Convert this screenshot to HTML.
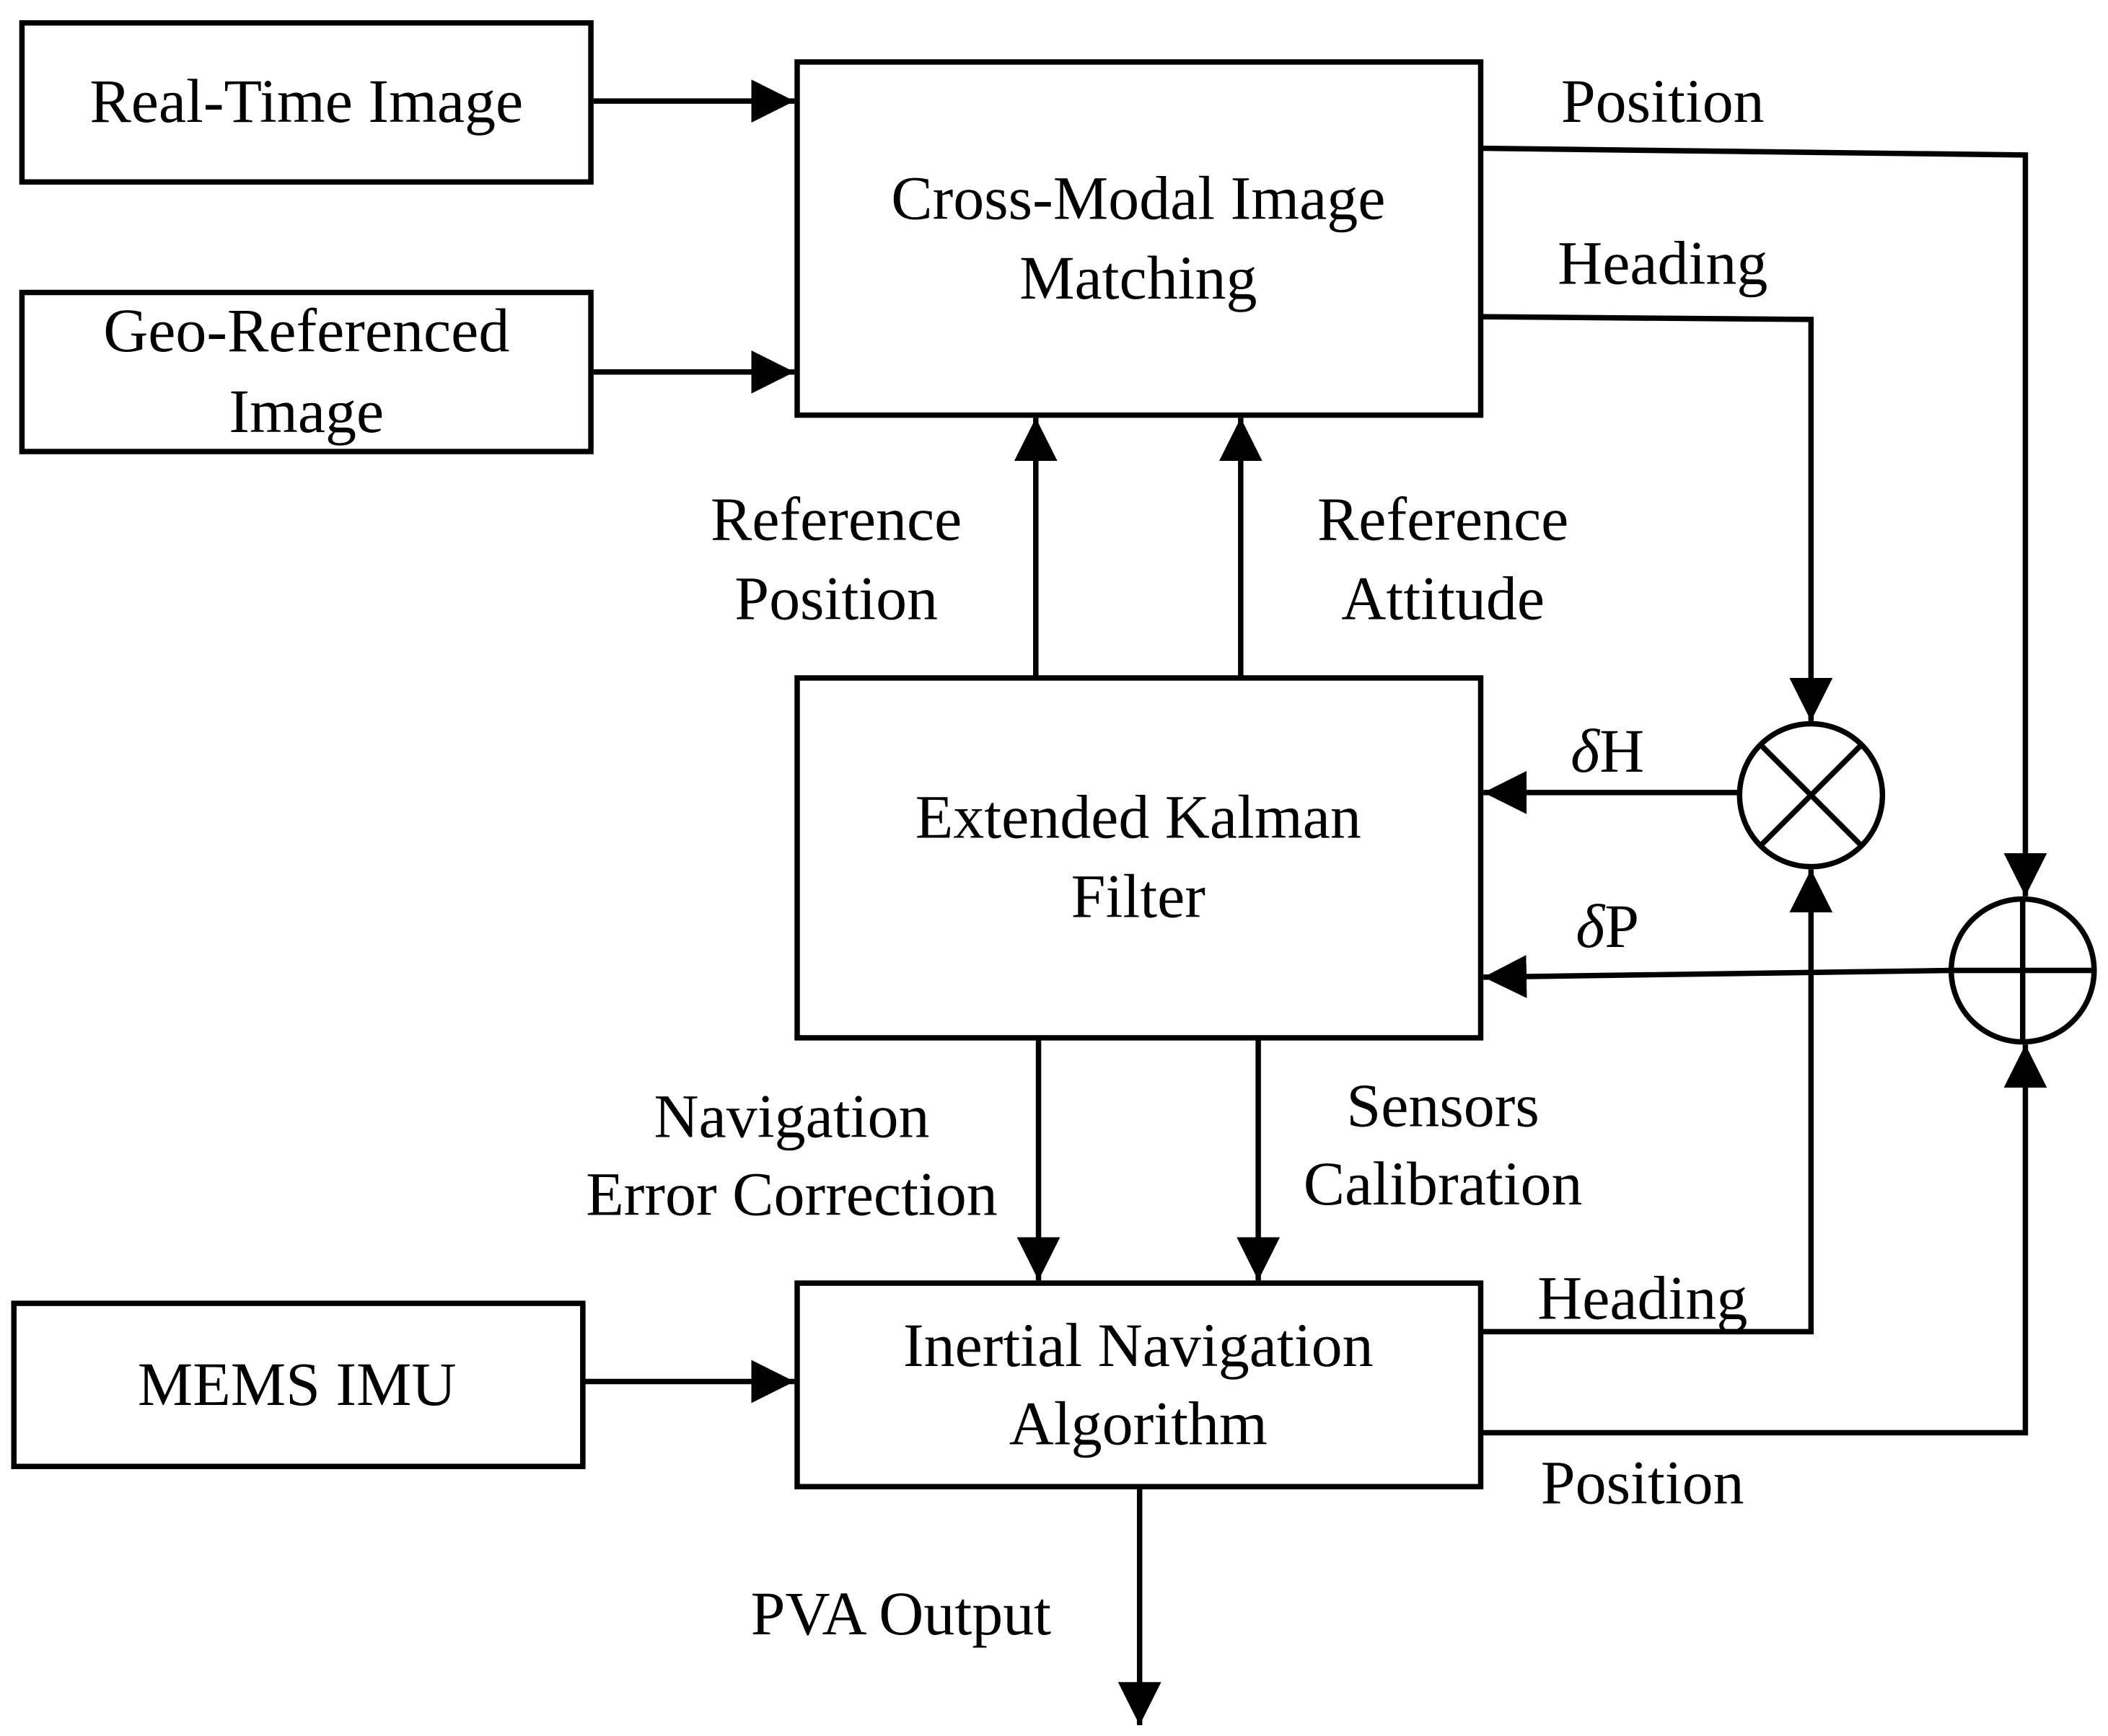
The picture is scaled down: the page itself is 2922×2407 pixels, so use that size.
<!DOCTYPE html>
<html><head><meta charset="utf-8"><style>
html,body{margin:0;padding:0;background:#fff;}
svg{display:block;}
text{font-family:"Liberation Serif",serif;font-size:46px;fill:#000;text-anchor:middle;dominant-baseline:central;}
</style></head><body>
<svg width="2922" height="2407" viewBox="0 0 1563 1288" xmlns="http://www.w3.org/2000/svg">
<defs>
<marker id="a" markerWidth="8" markerHeight="8" refX="8" refY="4" orient="auto" markerUnits="strokeWidth">
<path d="M0,0 L8,4 L0,8 Z" fill="#000"/></marker>
</defs>
<g fill="none" stroke="#000" stroke-width="4">
<rect x="16" y="17" width="422" height="118"/>
<rect x="16" y="217" width="422" height="118"/>
<rect x="591" y="46" width="507" height="262"/>
<rect x="591" y="503" width="507" height="267"/>
<rect x="591" y="952" width="507" height="151"/>
<rect x="10" y="967" width="422" height="121"/>
<circle cx="1343" cy="590" r="53"/>
<circle cx="1500" cy="720" r="53"/>
<line x1="1306" y1="553" x2="1380" y2="627"/>
<line x1="1380" y1="553" x2="1306" y2="627"/>
<line x1="1447" y1="720" x2="1553" y2="720"/>
<line x1="1500" y1="667" x2="1500" y2="773"/>
</g>
<g fill="none" stroke="#000" stroke-width="4" marker-end="url(#a)">
<line x1="440" y1="75" x2="589" y2="75"/>
<line x1="440" y1="276" x2="589" y2="276"/>
<line x1="432" y1="1025" x2="589" y2="1025"/>
<polyline points="1098,110 1502,115 1502,665"/>
<polyline points="1098,235 1343,237 1343,535"/>
<line x1="768" y1="503" x2="768" y2="310"/>
<line x1="920" y1="503" x2="920" y2="310"/>
<line x1="1290" y1="588" x2="1100" y2="588"/>
<line x1="1447" y1="720" x2="1100" y2="725"/>
<polyline points="1098,988 1343,988 1343,645"/>
<polyline points="1098,1063 1502,1063 1502,775"/>
<line x1="770" y1="770" x2="770" y2="950"/>
<line x1="933" y1="770" x2="933" y2="950"/>
<line x1="845" y1="1103" x2="845" y2="1280"/>
</g>
<text x="227" y="75">Real-Time Image</text>
<text x="227" y="245">Geo-Referenced</text>
<text x="227" y="305">Image</text>
<text x="844" y="147">Cross-Modal Image</text>
<text x="844" y="206">Matching</text>
<text x="1233" y="75">Position</text>
<text x="1233" y="195">Heading</text>
<text x="620" y="385">Reference</text>
<text x="620" y="444">Position</text>
<text x="1070" y="385">Reference</text>
<text x="1070" y="444">Attitude</text>
<text x="844" y="606">Extended Kalman</text>
<text x="844" y="665">Filter</text>
<text x="1192" y="557"><tspan font-style="italic">δ</tspan>H</text>
<text x="1192" y="687"><tspan font-style="italic">δ</tspan>P</text>
<text x="587" y="828">Navigation</text>
<text x="587" y="886">Error Correction</text>
<text x="1070" y="820">Sensors</text>
<text x="1070" y="878">Calibration</text>
<text x="844" y="998">Inertial Navigation</text>
<text x="844" y="1056">Algorithm</text>
<text x="220" y="1027">MEMS IMU</text>
<text x="1218" y="963">Heading</text>
<text x="1218" y="1100">Position</text>
<text x="668" y="1197">PVA Output</text>
</svg>
</body></html>
